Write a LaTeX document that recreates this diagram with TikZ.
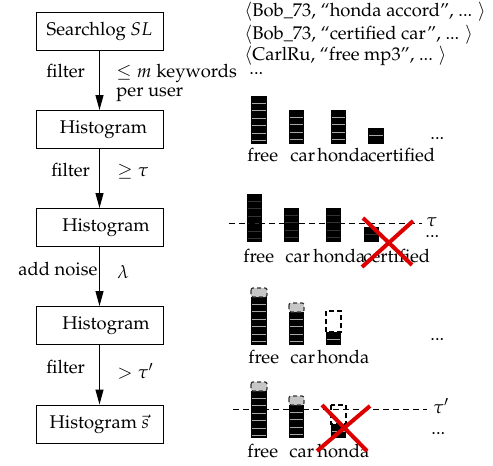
\documentclass[tikz,border=0pt]{standalone}
\usepackage[T1]{fontenc}
\usepackage{mathpazo}
\usetikzlibrary{arrows.meta}
\definecolor{xred}{RGB}{220,0,0}
\newcommand\hstack[5]{% x1 x2 top bottom linecolor
  \fill[black] (#1,#3) rectangle (#2,#4);
  \foreach \k in {1,...,9}{%
    \pgfmathsetmacro\yy{#3+\k*7.4}%
    \pgfmathparse{\yy<#4-2?1:0}%
    \ifnum\pgfmathresult=1 \draw[#5,line width=0.5pt] (#1+1,\yy) -- (#2-1,\yy);\fi
  }}
\begin{document}
\begin{tikzpicture}[x=0.5pt,y=-0.5pt,
  font=\fontsize{9.2}{11}\selectfont,
  box/.style={draw,line width=0.5pt,minimum width=63.5pt,minimum height=19pt,inner sep=0pt},
  flow/.style={line width=0.5pt,-{Triangle[length=7.5pt,width=4pt]}},
  lbl/.style={anchor=base west,inner sep=0pt},
  noisecap/.style={fill=gray!45,draw=gray!40!black,dash pattern=on 2pt off 1.5pt,line width=0.6pt,rounded corners=1pt},
  ghost/.style={fill=white,draw=black,dash pattern=on 2.5pt off 1.5pt,line width=0.7pt},
  cut/.style={draw=xred,line width=2pt},
  thr/.style={line width=0.5pt,dash pattern=on 3pt off 2pt}]
\useasboundingbox (0,0) rectangle (493,466);
% boxes
\node[box] (b1) at (99.5,31) {Searchlog $SL$};
\node[box] (b2) at (99.5,129.5) {\hspace*{4pt}Histogram};
\node[box] (b3) at (99.5,227.5) {\hspace*{6.5pt}Histogram};
\node[box] (b4) at (99.5,325.5) {\hspace*{6.5pt}Histogram};
\node[box] (b5) at (99.5,424) {Histogram $\vec{s}$};
\draw[flow] (b1) -- (b2);
\draw[flow] (b2) -- (b3);
\draw[flow] (b3) -- (b4);
\draw[flow] (b4) -- (b5);
% left labels
\node[lbl] (l1) at (46,77) {filter};
\node[lbl] (r1) at (116,77) {$\leq m$ keywords};
\node[lbl] (r1b) at (116,96) {per user};
\node[lbl] (l2) at (51,176) {filter};
\node[lbl] (r2) at (117,176) {$\geq \tau$};
\node[lbl] (l3) at (18,275) {add noise};
\node[lbl] (r3) at (117,278) {$\lambda$};
\node[lbl] (l4) at (46,373) {filter};
\node[lbl] (r4) at (117,378) {$> \tau'$};
% top records
\node[lbl] (t1) at (244,17) {$\langle$Bob\_73, ``honda accord'', ... $\rangle$};
\node[lbl] (t2) at (244,39.5) {$\langle$Bob\_73, ``certified car'', ... $\rangle$};
\node[lbl] (t3) at (244,61) {$\langle$CarlRu, ``free mp3'', ... $\rangle$};
\node[lbl] (t4) at (249,74) {...};
% row 1
\hstack{251}{267}{96}{144}{gray!70}
\hstack{289}{304}{110}{144}{gray!70}
\hstack{331}{346}{110}{144}{gray!70}
\hstack{368}{384}{128}{144}{gray!70}
\node[lbl] (a1) at (247,161) {free};
\node[lbl] (a2) at (290,161) {car};
\node[lbl] (a3) at (317,161) {honda};
\node[lbl] (a4) at (368,161) {certified};
\node[lbl] (a5) at (430,139) {...};
% row 2
\hstack{247}{262}{194}{242}{gray!40!black}
\hstack{284}{299}{208}{242}{gray!40!black}
\hstack{326}{341}{208}{242}{gray!40!black}
\hstack{364}{379}{227}{242}{gray!40!black}
\coordinate (d1) at (229,223);
\coordinate (d2) at (422,223);
\draw[thr] (d1) -- (d2);
\node[lbl] (tau1) at (426,226) {$\tau$};
\node[lbl] (dd1) at (425,237) {...};
\node[lbl] (c1) at (243,262) {free};
\node[lbl] (c2) at (285,262) {car};
\node[lbl] (c3) at (313,262) {honda};
\node[lbl] (c4) at (363,262) {certified};
\coordinate (x1a) at (363,218); \coordinate (x1b) at (412,265);
\coordinate (x1c) at (413,221); \coordinate (x1d) at (362,267);
\draw[cut] (x1a) -- (x1b);
\draw[cut] (x1c) -- (x1d);
% row 3
\hstack{251}{267}{297}{345}{gray!70}
\draw[noisecap] (251,288) rectangle (267,297);
\hstack{289}{304}{312}{345}{gray!70}
\draw[noisecap] (289,303) rectangle (304,312);
\hstack{326}{341}{332}{345}{gray!70}
\draw[ghost] (326,311) rectangle (341,332);
\node[lbl] (e1) at (248,363) {free};
\node[lbl] (e2) at (290,363) {car};
\node[lbl] (e3) at (317,363) {honda};
\node[lbl] (e4) at (430,340) {...};
% row 4
\hstack{251}{267}{391}{438}{gray!70}
\draw[noisecap] (251,382) rectangle (267,391);
\hstack{289}{304}{405}{438}{gray!70}
\draw[noisecap] (289,396) rectangle (304,405);
\hstack{331}{346}{424}{438}{gray!70}
\draw[ghost] (331,405) rectangle (346,424);
\coordinate (d3) at (233,409);
\coordinate (d4) at (427,409);
\draw[thr] (d3) -- (d4);
\node[lbl] (tau2) at (433,413) {$\tau'$};
\node[lbl] (dd2) at (431,434) {...};
\node[lbl] (f1) at (247,457) {free};
\node[lbl] (f2) at (289,457) {car};
\node[lbl] (f3) at (317,457) {honda};
\coordinate (x2a) at (322,405); \coordinate (x2b) at (367,451);
\coordinate (x2c) at (370,406); \coordinate (x2d) at (317,451);
\draw[cut] (x2a) -- (x2b);
\draw[cut] (x2c) -- (x2d);
\end{tikzpicture}
\end{document}
